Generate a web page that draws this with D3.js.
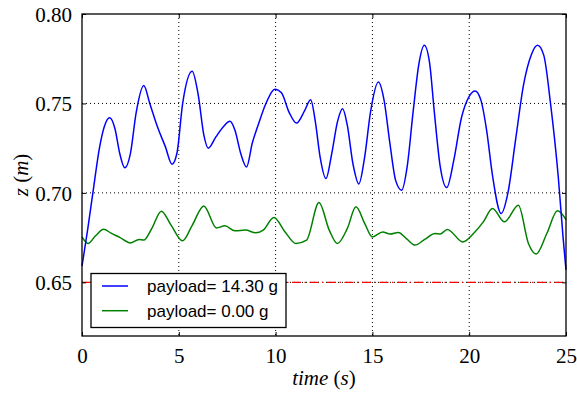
<!DOCTYPE html>
<html>
<head>
<meta charset="UTF-8">
<script src="https://cdnjs.cloudflare.com/ajax/libs/d3/7.8.5/d3.min.js"></script>
<style>
  body { margin: 0; background: #fff; }
</style>
</head>
<body>
<script>
// payload = 14.30 g
const blueT = [0, 0.3, 0.6, 0.9, 1.15, 1.43, 1.7, 1.95, 2.21, 2.5, 2.8, 3.19, 3.5, 3.93, 4.3, 4.65, 4.9, 5.2, 5.69, 6.0,
  6.3, 6.52, 6.9, 7.3, 7.64, 7.9, 8.2, 8.5, 8.8, 9.1, 9.5, 9.96, 10.3, 10.7, 11.08, 11.5, 11.81, 12.05, 12.3, 12.6,
  12.9, 13.2, 13.46, 13.7, 14.0, 14.3, 14.6, 14.9, 15.31, 15.6, 15.9, 16.2, 16.51, 16.8, 17.1, 17.4, 17.68, 17.95, 18.2, 18.5,
  18.84, 19.2, 19.6, 20.0, 20.3, 20.6, 20.9, 21.2, 21.65, 22.0, 22.4, 22.8, 23.2, 23.53, 23.85, 24.2, 24.6, 24.85, 25.0];
const blueZ = [0.659, 0.680, 0.703, 0.725, 0.737, 0.742, 0.736, 0.722, 0.714, 0.722, 0.745, 0.760, 0.750, 0.736, 0.726, 0.716, 0.722, 0.750, 0.768, 0.755,
  0.732, 0.725, 0.731, 0.737, 0.740, 0.735, 0.722, 0.7145, 0.728, 0.738, 0.750, 0.758, 0.756, 0.745, 0.739, 0.746, 0.752, 0.740, 0.720, 0.708,
  0.722, 0.740, 0.747, 0.738, 0.716, 0.705, 0.720, 0.745, 0.762, 0.752, 0.728, 0.707, 0.7015, 0.715, 0.745, 0.772, 0.7825, 0.773, 0.745, 0.715,
  0.703, 0.718, 0.742, 0.754, 0.757, 0.752, 0.735, 0.710, 0.6885, 0.700, 0.730, 0.760, 0.777, 0.7825, 0.777, 0.750, 0.709, 0.675, 0.657];

// payload = 0.00 g
const greenT = [0, 0.31, 0.7, 1.12, 1.5, 1.95, 2.5, 2.95, 3.19, 3.6, 4.1, 4.6, 5.19, 5.7, 6.29, 6.95, 7.38, 7.9, 8.45, 8.97,
  9.36, 9.91, 10.5, 11.05, 11.6, 12.24, 12.77, 13.19, 13.7, 14.15, 14.6, 15.0, 15.53, 15.91, 16.34, 16.8, 17.2, 17.7, 18.24, 18.5,
  18.87, 19.67, 20.22, 20.73, 21.2, 21.82, 22.54, 23.06, 23.46, 24.01, 24.56, 25.0];
const greenZ = [0.6754, 0.6717, 0.6760, 0.6797, 0.6775, 0.6751, 0.6720, 0.6740, 0.6736, 0.6800, 0.6898, 0.6820, 0.6732, 0.6820, 0.6927, 0.6804, 0.6816, 0.6788, 0.6792, 0.6777,
  0.6792, 0.6863, 0.6780, 0.6717, 0.6736, 0.6946, 0.6792, 0.6717, 0.6800, 0.6922, 0.6830, 0.6754, 0.6782, 0.6770, 0.6779, 0.6740, 0.6708, 0.6740, 0.6773, 0.6770,
  0.6796, 0.6726, 0.6773, 0.6838, 0.6913, 0.6838, 0.6931, 0.6717, 0.6658, 0.6773, 0.6900, 0.6851];

const refZ = 0.65;
const xTicks = [0, 5, 10, 15, 20, 25];
const yTicks = [0.65, 0.70, 0.75, 0.80];
const legendLabels = ['payload= 14.30 g', 'payload= 0.00 g'];

const serif = 'Liberation Serif';
const sans = 'Liberation Sans';

const width = 577, height = 396;
const margin = {top: 14, right: 11, bottom: 60, left: 82};
const w = width - margin.left - margin.right;
const h = height - margin.top - margin.bottom;

const svg = d3.select('body').append('svg')
  .attr('width', width).attr('height', height);
const g = svg.append('g').attr('transform', `translate(${margin.left},${margin.top})`);

const x = d3.scaleLinear().domain([0, 25]).range([0, w]);
const y = d3.scaleLinear().domain([0.62, 0.80]).range([h, 0]);

// grid
g.selectAll('.gx').data(xTicks.slice(1, -1)).enter().append('line')
  .attr('x1', d => x(d)).attr('x2', d => x(d)).attr('y1', 0).attr('y2', h)
  .attr('stroke', '#000').attr('stroke-width', 1).attr('stroke-dasharray', '1,3');
g.selectAll('.gy').data(yTicks.filter(d => d < 0.8)).enter().append('line')
  .attr('x1', 0).attr('x2', w).attr('y1', d => y(d)).attr('y2', d => y(d))
  .attr('stroke', '#000').attr('stroke-width', 1).attr('stroke-dasharray', '1,3');

// reference line
g.append('line')
  .attr('x1', x(0)).attr('x2', x(25)).attr('y1', y(refZ)).attr('y2', y(refZ))
  .attr('stroke', '#ff0000').attr('stroke-width', 1.3).attr('stroke-dasharray', '9,3.5,1.5,3.5');

const line = d3.line().x(d => x(d[0])).y(d => y(d[1])).curve(d3.curveMonotoneX);
g.append('path').datum(d3.zip(greenT, greenZ)).attr('d', line)
  .attr('fill', 'none').attr('stroke', '#008000').attr('stroke-width', 1.5);
g.append('path').datum(d3.zip(blueT, blueZ)).attr('d', line)
  .attr('fill', 'none').attr('stroke', '#0000ff').attr('stroke-width', 1.5);

// axes (inward ticks on all sides)
const xb = g.append('g').attr('transform', `translate(0,${h})`)
  .call(d3.axisBottom(x).tickValues(xTicks).tickSize(-4).tickPadding(12).tickFormat(d3.format('d')));
const xt = g.append('g').call(d3.axisTop(x).tickValues(xTicks).tickSize(-4).tickFormat(''));
const yl = g.append('g')
  .call(d3.axisLeft(y).tickValues(yTicks).tickSize(-4).tickPadding(10).tickFormat(d3.format('.2f')));
const yr = g.append('g').attr('transform', `translate(${w},0)`)
  .call(d3.axisRight(y).tickValues(yTicks).tickSize(-4).tickFormat(''));
[xb, xt, yl, yr].forEach(a => {
  a.attr('font-family', serif).attr('font-size', 21);
  a.select('.domain').remove();
  a.selectAll('line').attr('stroke', '#000').attr('stroke-width', 1);
  a.selectAll('text').attr('fill', '#000');
});
yl.selectAll('text').attr('dy', '0.35em');

g.append('rect').attr('width', w).attr('height', h)
  .attr('fill', 'none').attr('stroke', '#000').attr('stroke-width', 1.3);

// axis labels
const xl = svg.append('text').attr('font-family', serif).attr('font-size', 21)
  .attr('x', margin.left + w / 2).attr('y', 385).attr('text-anchor', 'middle');
xl.append('tspan').attr('font-style', 'italic').text('time');
xl.append('tspan').text(' (');
xl.append('tspan').attr('font-style', 'italic').text('s');
xl.append('tspan').text(')');

const ylab = svg.append('text').attr('font-family', serif).attr('font-size', 21)
  .attr('transform', `translate(28,${margin.top + h / 2}) rotate(-90)`).attr('text-anchor', 'middle');
ylab.append('tspan').attr('font-style', 'italic').text('z');
ylab.append('tspan').text(' (');
ylab.append('tspan').attr('font-style', 'italic').text('m');
ylab.append('tspan').text(')');

// legend
const lg = svg.append('g').attr('transform', 'translate(91,273.5)');
lg.append('rect').attr('width', 195).attr('height', 54)
  .attr('fill', '#fff').attr('stroke', '#000').attr('stroke-width', 1.3);
const legendColors = ['#0000ff', '#008000'];
legendLabels.forEach((lab, i) => {
  const yy = 12.5 + i * 24.7;
  lg.append('line').attr('x1', 11).attr('x2', 37).attr('y1', yy).attr('y2', yy)
    .attr('stroke', legendColors[i]).attr('stroke-width', 1.5);
  lg.append('text').attr('font-family', sans).attr('font-size', 17)
    .attr('x', 56).attr('y', yy + 6).text(lab);
});
</script>
</body>
</html>
